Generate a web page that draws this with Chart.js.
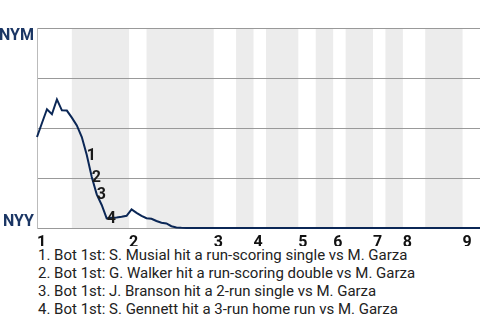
<!DOCTYPE html>
<html>
<head>
<meta charset="utf-8">
<script src="https://cdn.jsdelivr.net/npm/chart.js@4/dist/chart.umd.min.js"></script>
<style>
  body { margin: 0; background: #fff; width: 480px; height: 320px; overflow: hidden; font-family: Roboto, sans-serif; }
  #wrap { position: relative; width: 480px; height: 246px; }
  #plays { margin: 0; padding: 0 0 0 38px; list-style: none; font-size: 15px; line-height: 18px; color: #222; }
</style>
</head>
<body>
<div id="wrap"><canvas id="wpChart" width="480" height="246"></canvas></div>
<ul id="plays"></ul>
<script>
// NYM win probability after each play (0 = NYY wins, 100 = NYM wins)
const winProb = [
  45.5, 52.5, 59.4, 56.9, 64.3, 58.8, 58.7, 55.2, 51.3, 45.5,
  36.5, 25.5, 16.8, 11.5, 4.8, 5.1, 5.2, 5.6, 6.1, 9.3,
  7.6, 6.1, 4.9, 4.6, 3.5, 2.6, 2.3, 0.9, 0.3, 0.1,
  0, 0, 0, 0, 0, 0, 0, 0, 0, 0,
  0, 0, 0, 0, 0, 0, 0, 0, 0, 0,
  0, 0, 0, 0, 0, 0, 0, 0, 0, 0,
  0, 0, 0, 0, 0, 0, 0, 0, 0, 0,
  0, 0, 0, 0, 0, 0, 0, 0, 0, 0,
  0, 0, 0, 0, 0, 0, 0, 0, 0, 0
];
// play position where each half inning starts (top 1, bot 1, top 2, ...)
const halfStarts = [0, 7, 18.5, 22, 35.5, 40, 43.5, 46, 52.5, 56, 59.5, 62, 67.5, 70, 73.5, 78, 85.5];
const lastPlay = 89;
const innings = ['1', '2', '3', '4', '5', '6', '7', '8', '9'];
const teams = ['NYM', 'NYY'];
const markedPlays = [10, 11, 12, 14];
const playTexts = [
  'Bot 1st: S. Musial hit a run-scoring single vs M. Garza',
  'Bot 1st: G. Walker hit a run-scoring double vs M. Garza',
  'Bot 1st: J. Branson hit a 2-run single vs M. Garza',
  'Bot 1st: S. Gennett hit a 3-run home run vs M. Garza'
];

const topStarts = halfStarts.filter((v, i) => i % 2 === 0);

const bands = {
  id: 'bands',
  beforeDraw(chart) {
    const { ctx, chartArea, scales } = chart;
    ctx.save();
    ctx.fillStyle = '#ececec';
    for (let i = 1; i < halfStarts.length; i += 2) {
      const x1 = scales.x.getPixelForValue(halfStarts[i]);
      const end = i + 1 < halfStarts.length ? halfStarts[i + 1] : lastPlay;
      const x2 = scales.x.getPixelForValue(end);
      ctx.fillRect(x1, chartArea.top, x2 - x1, chartArea.bottom - chartArea.top);
    }
    ctx.restore();
  }
};

const labels = {
  id: 'labels',
  afterDraw(chart) {
    const { ctx, chartArea, scales } = chart;
    ctx.save();
    ctx.font = 'bold 16px Roboto';
    ctx.fillStyle = '#1b3664';
    ctx.textAlign = 'right';
    ctx.textBaseline = 'alphabetic';
    ctx.fillText(teams[0], chartArea.left - 3, chartArea.top + 12);
    ctx.fillText(teams[1], chartArea.left - 3, chartArea.bottom - 2);

    ctx.fillStyle = '#1a1a1a';
    ctx.textAlign = 'left';
    ctx.textBaseline = 'middle';
    markedPlays.forEach((p, i) => {
      const x = scales.x.getPixelForValue(p);
      const y = scales.y.getPixelForValue(winProb[p]);
      ctx.fillText(String(i + 1), x, y + 1);
    });
    ctx.restore();
  }
};

const ctx = document.getElementById('wpChart');
const myChart = new Chart(ctx, {
  type: 'line',
  data: {
    datasets: [
      {
        data: winProb.map((v, i) => ({ x: i, y: v })),
        borderColor: '#0b2756',
        borderWidth: 2,
        pointRadius: 0,
        tension: 0,
        fill: false,
        clip: 4
      }
    ]
  },
  options: {
    responsive: false,
    maintainAspectRatio: false,
    animation: false,
    layout: { autoPadding: false, padding: { top: 28, right: 0, left: 0, bottom: 0 } },
    plugins: { legend: { display: false }, tooltip: { enabled: false } },
    scales: {
      x: {
        type: 'linear',
        min: 0,
        max: lastPlay,
        grid: { display: false },
        border: { display: false },
        afterBuildTicks: axis => {
          axis.ticks = topStarts.map(v => ({ value: v }));
        },
        afterFit: axis => {
          axis.height = 18;
        },
        ticks: {
          align: 'start',
          autoSkip: false,
          maxRotation: 0,
          padding: -3,
          color: '#111',
          font: { family: 'Roboto', size: 16, weight: 'bold' },
          callback: v => innings[topStarts.indexOf(v)]
        }
      },
      y: {
        min: 0,
        max: 100,
        ticks: { stepSize: 25, display: false },
        grid: { color: '#999', drawTicks: false },
        border: { color: '#bbb' },
        afterFit: axis => {
          axis.width = 37;
        }
      }
    }
  },
  plugins: [bands, labels]
});

const list = document.getElementById('plays');
playTexts.forEach((t, i) => {
  const li = document.createElement('li');
  li.textContent = (i + 1) + '. ' + t;
  list.appendChild(li);
});
</script>
</body>
</html>
